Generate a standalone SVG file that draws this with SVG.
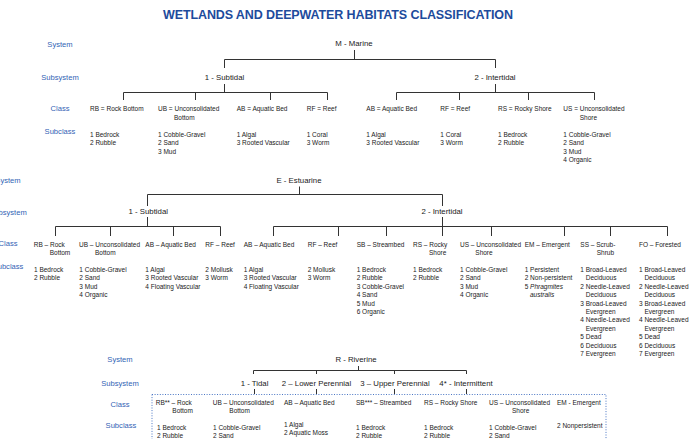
<svg xmlns="http://www.w3.org/2000/svg" width="690" height="439" viewBox="0 0 690 439">
<style>
text{font-family:"Liberation Sans",Arial,sans-serif;fill:#1a1a1a}
.title{font-size:12.5px;font-weight:bold;fill:#1d4b9c}
.lbl{font-size:7.6px;fill:#3263b5;text-anchor:middle}
.n{font-size:7.8px;text-anchor:middle}
.t{font-size:6.5px}
.i{font-style:italic}
.c{stroke:#333;stroke-width:1;fill:none}
.box{stroke:#4a76c4;stroke-width:1;fill:none;stroke-dasharray:1 1.6}
</style>
<rect width="690" height="439" fill="#fff"/>
<text class="title" x="338" y="18.5" text-anchor="middle" textLength="350">WETLANDS AND DEEPWATER HABITATS CLASSIFICATION</text>

<g id="labels">
<text class="lbl" x="60" y="47">System</text>
<text class="lbl" x="60" y="80">Subsystem</text>
<text class="lbl" x="60" y="111">Class</text>
<text class="lbl" x="60" y="133.5">Subclass</text>
<text class="lbl" x="8" y="183">System</text>
<text class="lbl" x="8" y="215">Subsystem</text>
<text class="lbl" x="8" y="246">Class</text>
<text class="lbl" x="8" y="269">Subclass</text>
<text class="lbl" x="120" y="362">System</text>
<text class="lbl" x="120" y="386">Subsystem</text>
<text class="lbl" x="120" y="407">Class</text>
<text class="lbl" x="121" y="427.5">Subclass</text>
</g>

<g id="connectors">
<path class="c" d="M354.5 50V59.5M224.5 68V59.5H495.5V68"/>
<path class="c" d="M224.5 84V92.5M123.5 100V92.5H327.5V100M195.5 92.5V100M270.5 92.5V100"/>
<path class="c" d="M495.5 84V92.5M396.5 100V92.5H594.5V100M459.5 92.5V100M528.5 92.5V100"/>
<path class="c" d="M299.5 186.5V194.5M147.5 206V194.5H442.5V206"/>
<path class="c" d="M147.5 217V226.5M55.5 236V226.5H220.5V236M110.5 226.5V236M173.5 226.5V236"/>
<path class="c" d="M442.5 217V236M273.5 236V226.5H667.5V236M338.5 226.5V236M386.5 226.5V236M491.5 226.5V236M564.5 226.5V236M610.5 226.5V236"/>
<path class="c" d="M358.5 366V370.5M253.5 374V370.5H466.5V374M316.5 370.5V374M394.5 370.5V374"/>
<path class="c" d="M254.5 389V394M316.5 389V394M394.5 389V394M466.5 389V394"/>
</g>

<g id="marine">
<text class="n" x="354" y="46">M - Marine</text>
</g>
<g id="marine-subtidal">
<text class="n" x="224.5" y="79.5">1 - Subtidal</text>
</g>
<g id="marine-intertidal">
<text class="n" x="495" y="79.5">2 - Intertidal</text>
</g>
<g id="m-rb"><text class="t" x="90" y="111.3">RB = Rock Bottom</text>
<text class="t" x="90" y="136.7">1 Bedrock</text><text class="t" x="90" y="145.1">2 Rubble</text></g>
<g id="m-ub"><text class="t" x="158" y="111.3">UB = Unconsolidated</text><text class="t" x="174" y="119.7">Bottom</text>
<text class="t" x="158" y="136.7">1 Cobble-Gravel</text><text class="t" x="158" y="145.1">2 Sand</text><text class="t" x="158" y="153.5">3 Mud</text></g>
<g id="m-ab"><text class="t" x="236.7" y="111.3">AB = Aquatic Bed</text>
<text class="t" x="236.7" y="136.7">1 Algal</text><text class="t" x="236.7" y="145.1">3 Rooted Vascular</text></g>
<g id="m-rf"><text class="t" x="306.7" y="111.3">RF = Reef</text>
<text class="t" x="306.7" y="136.7">1 Coral</text><text class="t" x="306.7" y="145.1">3 Worm</text></g>
<g id="m-ab2"><text class="t" x="366.3" y="111.3">AB = Aquatic Bed</text>
<text class="t" x="366.3" y="136.7">1 Algal</text><text class="t" x="366.3" y="145.1">3 Rooted Vascular</text></g>
<g id="m-rf2"><text class="t" x="440.3" y="111.3">RF = Reef</text>
<text class="t" x="440.3" y="136.7">1 Coral</text><text class="t" x="440.3" y="145.1">3 Worm</text></g>
<g id="m-rs"><text class="t" x="498" y="111.3">RS = Rocky Shore</text>
<text class="t" x="498" y="136.7">1 Bedrock</text><text class="t" x="498" y="145.1">2 Rubble</text></g>
<g id="m-us"><text class="t" x="563.3" y="111.3">US = Unconsolidated</text><text class="t" x="579.7" y="119.7">Shore</text>
<text class="t" x="563.3" y="136.7">1 Cobble-Gravel</text><text class="t" x="563.3" y="145.1">2 Sand</text><text class="t" x="563.3" y="153.5">3 Mud</text><text class="t" x="563.3" y="161.9">4 Organic</text></g>

<g id="estuarine"><text class="n" x="299" y="183">E - Estuarine</text></g>
<g id="estuarine-subtidal"><text class="n" x="148.3" y="213.5">1 - Subtidal</text></g>
<g id="estuarine-intertidal"><text class="n" x="442" y="213.5">2 - Intertidal</text></g>
<g id="e-rb"><text class="t" x="33.7" y="246.7">RB – Rock</text><text class="t" x="49.7" y="255.1">Bottom</text>
<text class="t" x="34" y="272">1 Bedrock</text><text class="t" x="34" y="280.4">2 Rubble</text></g>
<g id="e-ub"><text class="t" x="79" y="246.7">UB – Unconsolidated</text><text class="t" x="95" y="255.1">Bottom</text>
<text class="t" x="79.3" y="272">1 Cobble-Gravel</text><text class="t" x="79.3" y="280.4">2 Sand</text><text class="t" x="79.3" y="288.8">3 Mud</text><text class="t" x="79.3" y="297.2">4 Organic</text></g>
<g id="e-ab"><text class="t" x="145.3" y="246.7">AB – Aquatic Bed</text>
<text class="t" x="145.3" y="272">1 Algal</text><text class="t" x="145.3" y="280.4">3 Rooted Vascular</text><text class="t" x="145.3" y="288.8">4 Floating Vascular</text></g>
<g id="e-rf"><text class="t" x="205.3" y="246.7">RF – Reef</text>
<text class="t" x="205.3" y="272">2 Mollusk</text><text class="t" x="205.3" y="280.4">3 Worm</text></g>
<g id="e-ab2"><text class="t" x="243.7" y="246.7">AB – Aquatic Bed</text>
<text class="t" x="243.7" y="272">1 Algal</text><text class="t" x="243.7" y="280.4">3 Rooted Vascular</text><text class="t" x="243.7" y="288.8">4 Floating Vascular</text></g>
<g id="e-rf2"><text class="t" x="307.7" y="246.7">RF – Reef</text>
<text class="t" x="307.7" y="272">2 Mollusk</text><text class="t" x="307.7" y="280.4">3 Worm</text></g>
<g id="e-sb"><text class="t" x="356.7" y="246.7">SB – Streambed</text>
<text class="t" x="356.7" y="272">1 Bedrock</text><text class="t" x="356.7" y="280.4">2 Rubble</text><text class="t" x="356.7" y="288.8">3 Cobble-Gravel</text><text class="t" x="356.7" y="297.2">4 Sand</text><text class="t" x="356.7" y="305.6">5 Mud</text><text class="t" x="356.7" y="314">6 Organic</text></g>
<g id="e-rs"><text class="t" x="413" y="246.7">RS – Rocky</text><text class="t" x="429" y="255.1">Shore</text>
<text class="t" x="413" y="272">1 Bedrock</text><text class="t" x="413" y="280.4">2 Rubble</text></g>
<g id="e-us"><text class="t" x="460" y="246.7">US – Unconsolidated</text><text class="t" x="475.3" y="255.1">Shore</text>
<text class="t" x="460" y="272">1 Cobble-Gravel</text><text class="t" x="460" y="280.4">2 Sand</text><text class="t" x="460" y="288.8">3 Mud</text><text class="t" x="460" y="297.2">4 Organic</text></g>
<g id="e-em"><text class="t" x="524.7" y="246.7">EM – Emergent</text>
<text class="t" x="524.7" y="272">1 Persistent</text><text class="t" x="524.7" y="280.4">2 Non-persistent</text><text class="t" x="524.7" y="288.8">5 <tspan class="i">Phragmites</tspan></text><text class="t i" x="530" y="297.2">australis</text></g>
<g id="e-ss"><text class="t" x="580.3" y="246.7">SS – Scrub-</text><text class="t" x="596.7" y="255.1">Shrub</text>
<text class="t" x="580.3" y="272">1 Broad-Leaved</text><text class="t" x="585.7" y="280.4">Deciduous</text><text class="t" x="580.3" y="288.8">2 Needle-Leaved</text><text class="t" x="585.7" y="297.2">Deciduous</text><text class="t" x="580.3" y="305.6">3 Broad-Leaved</text><text class="t" x="585.7" y="314">Evergreen</text><text class="t" x="580.3" y="322.4">4 Needle-Leaved</text><text class="t" x="585.7" y="330.8">Evergreen</text><text class="t" x="580.3" y="339.2">5 Dead</text><text class="t" x="580.3" y="347.6">6 Deciduous</text><text class="t" x="580.3" y="356">7 Evergreen</text></g>
<g id="e-fo"><text class="t" x="639" y="246.7">FO – Forested</text>
<text class="t" x="639" y="272">1 Broad-Leaved</text><text class="t" x="644.4" y="280.4">Deciduous</text><text class="t" x="639" y="288.8">2 Needle-Leaved</text><text class="t" x="644.4" y="297.2">Deciduous</text><text class="t" x="639" y="305.6">3 Broad-Leaved</text><text class="t" x="644.4" y="314">Evergreen</text><text class="t" x="639" y="322.4">4 Needle-Leaved</text><text class="t" x="644.4" y="330.8">Evergreen</text><text class="t" x="639" y="339.2">5 Dead</text><text class="t" x="639" y="347.6">6 Deciduous</text><text class="t" x="639" y="356">7 Evergreen</text></g>

<g id="riverine"><text class="n" x="356" y="362">R - Riverine</text></g>
<g id="r-tidal"><text class="n" x="254.5" y="386">1 - Tidal</text></g>
<g id="r-lower"><text class="n" x="316.5" y="386">2 – Lower Perennial</text></g>
<g id="r-upper"><text class="n" x="395" y="386">3 – Upper Perennial</text></g>
<g id="r-intermittent"><text class="n" x="466" y="386">4* - Intermittent</text></g>
<g id="r-classes">
<rect class="box" x="152" y="394.5" width="454" height="60"/>
</g>
<g id="r-rb"><text class="t" x="155.7" y="405">RB** – Rock</text><text class="t" x="172.3" y="413.4">Bottom</text>
<text class="t" x="157" y="430">1 Bedrock</text><text class="t" x="157" y="438.4">2 Rubble</text></g>
<g id="r-ub"><text class="t" x="212.7" y="405">UB – Unconsolidated</text><text class="t" x="229.3" y="413.4">Bottom</text>
<text class="t" x="213" y="430">1 Cobble-Gravel</text><text class="t" x="213" y="438.4">2 Sand</text></g>
<g id="r-ab"><text class="t" x="284" y="405">AB – Aquatic Bed</text>
<text class="t" x="284" y="427">1 Algal</text><text class="t" x="284" y="435.4">2 Aquatic Moss</text></g>
<g id="r-sb"><text class="t" x="356" y="405">SB*** – Streambed</text>
<text class="t" x="356" y="430">1 Bedrock</text><text class="t" x="356" y="438.4">2 Rubble</text></g>
<g id="r-rs"><text class="t" x="424" y="405">RS – Rocky Shore</text>
<text class="t" x="424" y="430">1 Bedrock</text><text class="t" x="424" y="438.4">2 Rubble</text></g>
<g id="r-us"><text class="t" x="489" y="405">US – Unconsolidated</text><text class="t" x="512" y="413.4">Shore</text>
<text class="t" x="489" y="430">1 Cobble-Gravel</text><text class="t" x="489" y="438.4">2 Sand</text></g>
<g id="r-em"><text class="t" x="557" y="405">EM - Emergent</text>
<text class="t" x="557" y="427.5">2 Nonpersistent</text></g>
</svg>
